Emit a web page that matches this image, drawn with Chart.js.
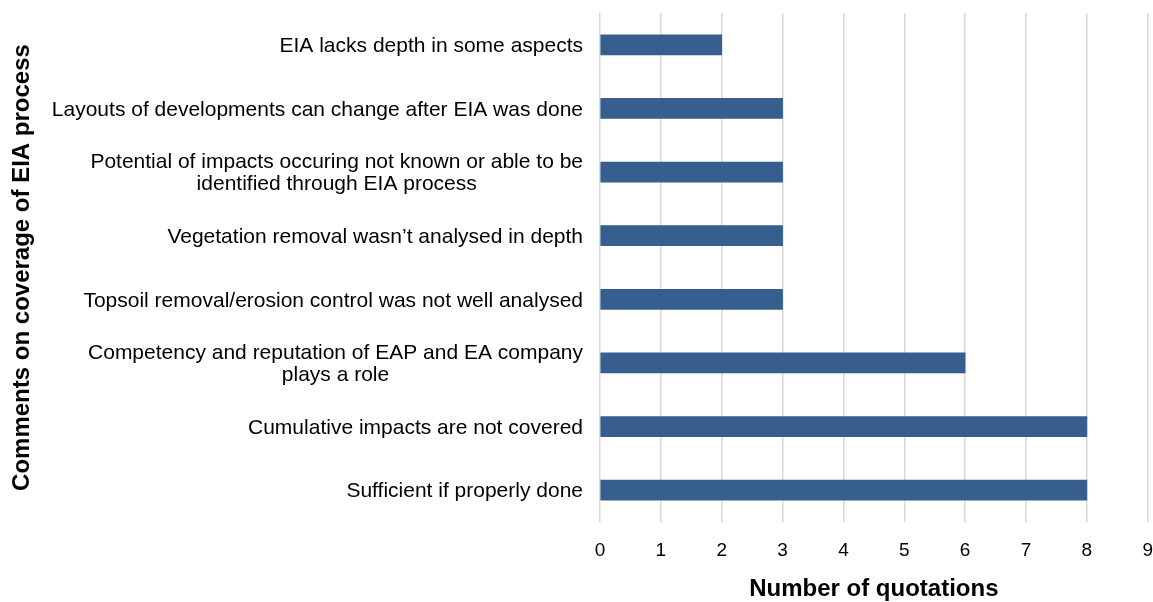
<!DOCTYPE html>
<html>
<head>
<meta charset="utf-8">
<script src="https://cdn.jsdelivr.net/npm/chart.js@4/dist/chart.umd.min.js"></script>
<style>
    html, body { margin: 0; padding: 0; background: #fff; overflow: hidden; }
    #wrap { width: 1170px; height: 602px; }
</style>
</head>
<body>
<div id="wrap"><canvas id="quoteChart"></canvas></div>
<script>
// Comments on EIA coverage, top to bottom
const categories = [
    ['EIA lacks depth in some aspects'],
    ['Layouts of developments can change after EIA was done'],
    ['Potential of impacts occuring not known or able to be', 'identified through EIA process'],
    ['Vegetation removal wasn\u2019t analysed in depth'],
    ['Topsoil removal/erosion control was not well analysed'],
    ['Competency and reputation of EAP and EA company', 'plays a role'],
    ['Cumulative impacts are not covered'],
    ['Sufficient if properly done'],
];
const quotations = [2, 3, 3, 3, 3, 6, 8, 8];
const xTicks = [0, 1, 2, 3, 4, 5, 6, 7, 8, 9];

const FONT = '"Liberation Sans", Arial, sans-serif';
const BAR_BLUE = '#365e8f';
const GRID_GREY = '#d9d9d9';

// Right-aligned label blocks, each line centred inside its block
const categoryLabels = {
    id: 'categoryLabels',
    afterDraw(chart) {
        const { ctx } = chart;
        const yScale = chart.scales.y;
        const right = chart.chartArea.left - 17;
        const lineH = 22;
        ctx.save();
        ctx.font = '21px ' + FONT;
        ctx.fillStyle = '#000';
        ctx.textBaseline = 'middle';
        ctx.textAlign = 'center';
        categories.forEach((lines, i) => {
            const yc = yScale.getPixelForTick(i) + 1.5;
            const blockW = Math.max(...lines.map(l => ctx.measureText(l).width));
            const cx = right - blockW / 2;
            const y0 = yc - (lines.length - 1) * lineH / 2;
            lines.forEach((l, j) => ctx.fillText(l, cx, y0 + j * lineH));
        });
        ctx.restore();
    }
};

new Chart(document.getElementById('quoteChart'), {
    type: 'bar',
    data: {
        labels: categories,
        datasets: [{
            data: quotations,
            backgroundColor: BAR_BLUE,
            borderWidth: 0,
            barThickness: 20,
        }],
    },
    options: {
        indexAxis: 'y',
        responsive: true,
        maintainAspectRatio: false,
        animation: false,
        layout: { padding: { top: 13, right: 17, bottom: 0, left: 0 } },
        plugins: {
            legend: { display: false },
            tooltip: { enabled: false },
        },
        scales: {
            x: {
                min: 0,
                max: 9,
                afterBuildTicks: (scale) => {
                    scale.ticks = xTicks.map(v => ({ value: v }));
                },
                afterFit: (scale) => { scale.height = 80; },
                border: { display: false },
                grid: { color: GRID_GREY, lineWidth: 1.5, drawTicks: false },
                ticks: {
                    color: '#000',
                    padding: 17,
                    font: { family: FONT, size: 19 },
                },
                title: {
                    display: true,
                    text: 'Number of quotations',
                    color: '#000',
                    font: { family: FONT, size: 24, weight: 'bold', lineHeight: 1 },
                    padding: { top: 17, bottom: 1 },
                },
            },
            y: {
                border: { display: false },
                grid: { display: false },
                ticks: { display: false },
                afterFit: (scale) => { scale.width = 600; },
                title: {
                    display: true,
                    text: 'Comments on coverage of EIA process',
                    color: '#000',
                    font: { family: FONT, size: 24, weight: 'bold', lineHeight: 1 },
                    padding: { top: 10, bottom: 0 },
                },
            },
        },
    },
    plugins: [categoryLabels],
});
</script>
</body>
</html>
